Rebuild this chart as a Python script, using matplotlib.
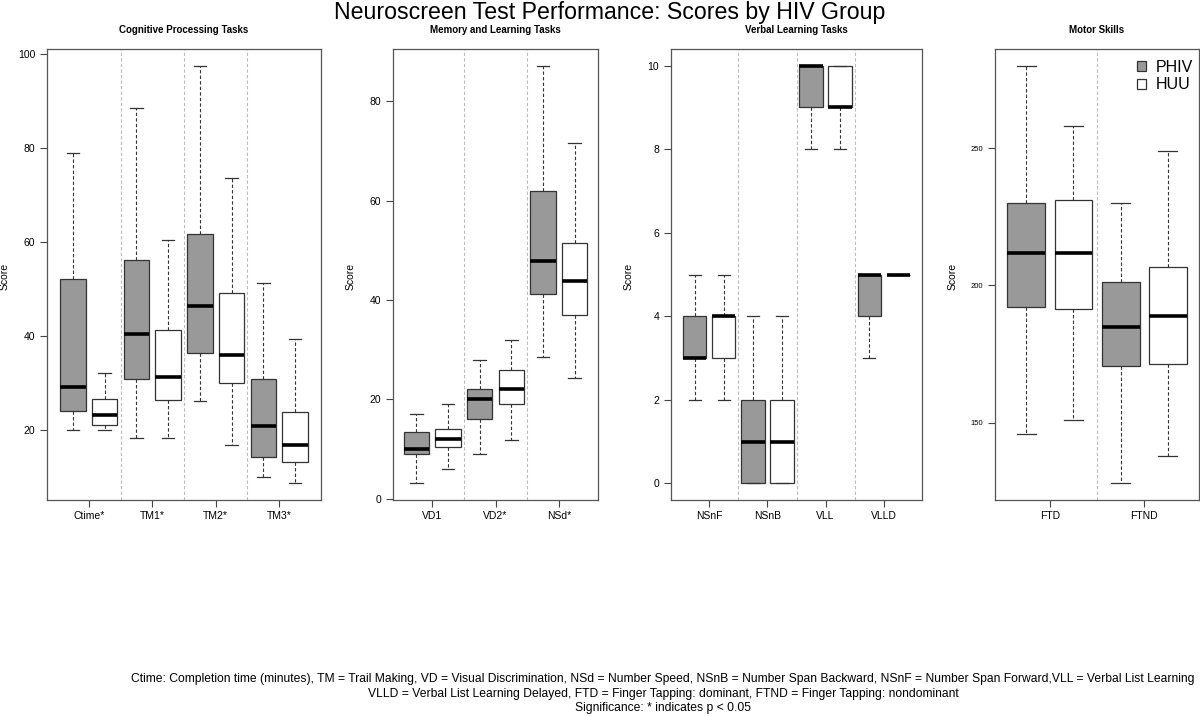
import numpy as np
import matplotlib.pyplot as plt
from matplotlib.patches import Patch

plt.rcParams['font.family'] = ['Liberation Sans', 'DejaVu Sans']

# five-number summaries: (low whisker, Q1, median, Q3, high whisker)
cog_tests = ['Ctime*', 'TM1*', 'TM2*', 'TM3*']
cog_phiv = [(20.0, 24.0, 29.1, 52.1, 78.9), (18.3, 30.8, 40.4, 56.1, 88.4),
            (26.2, 36.4, 46.3, 61.6, 97.5), (9.9, 14.2, 20.7, 30.8, 51.3)]
cog_huu = [(20.0, 21.1, 23.2, 26.5, 32.0), (18.2, 26.3, 31.3, 41.3, 60.5),
           (16.8, 30.0, 35.9, 49.1, 73.7), (8.6, 13.2, 16.7, 23.7, 39.3)]

mem_tests = ['VD1', 'VD2*', 'NSd*']
mem_phiv = [(3.1, 9.1, 10.0, 13.4, 17.0), (9.1, 16.0, 20.1, 22.0, 28.0),
            (28.5, 41.2, 47.9, 62.0, 87.2)]
mem_huu = [(6.0, 10.5, 12.0, 14.0, 19.0), (11.9, 19.0, 22.1, 26.0, 32.0),
           (24.4, 36.9, 43.9, 51.5, 71.7)]

verb_tests = ['NSnF', 'NSnB', 'VLL', 'VLLD']
verb_phiv = [(2, 3, 3, 4, 5), (0, 0, 1, 2, 4), (8, 9, 10, 10, 10), (3, 4, 5, 5, 5)]
verb_huu = [(2, 3, 4, 4, 5), (0, 0, 1, 2, 4), (8, 9, 9, 10, 10), (5, 5, 5, 5, 5)]

mot_tests = ['FTD', 'FTND']
mot_phiv = [(145.8, 192.0, 212.0, 229.9, 280.0), (128.0, 170.8, 184.8, 201.3, 229.9)]
mot_huu = [(150.9, 191.4, 212.0, 231.0, 258.1), (137.9, 171.4, 189.0, 206.9, 249.0)]

groups = ['PHIV', 'HUU']

W, H = 1200, 716
fig = plt.figure(figsize=(W / 100, H / 100), dpi=100)

# title, tests, phiv, huu, yticks, tick size, panel left px, panel width px
panels = [
    ('Cognitive Processing Tasks', cog_tests, cog_phiv, cog_huu, [20, 40, 60, 80, 100], 7.5, 47, 274),
    ('Memory and Learning Tasks', mem_tests, mem_phiv, mem_huu, [0, 20, 40, 60, 80], 7.5, 393, 205),
    ('Verbal Learning Tasks', verb_tests, verb_phiv, verb_huu, [0, 2, 4, 6, 8, 10], 7.5, 671, 251),
    ('Motor Skills', mot_tests, mot_phiv, mot_huu, [150, 200, 250], 5.5, 995, 204),
]

top, bottom = 49, 500
edge = '#333333'
for title, tests, phiv, huu, yticks, tsize, x0, w in panels:
    ax = fig.add_axes([x0 / W, 1 - bottom / H, w / W, (bottom - top) / H])
    stats = []
    for p, h in zip(phiv, huu):
        for s in (p, h):
            stats.append(dict(whislo=s[0], q1=s[1], med=s[2], q3=s[3], whishi=s[4]))
    n = len(stats)
    pos = np.arange(1, n + 1)
    b = ax.bxp(stats, positions=pos, widths=0.8, capwidths=0.4, patch_artist=True,
               showfliers=False,
               boxprops=dict(edgecolor=edge, linewidth=0.9),
               medianprops=dict(color='black', linewidth=2.6, solid_capstyle='butt'),
               whiskerprops=dict(color=edge, linewidth=0.8, linestyle=(0, (3, 2))),
               capprops=dict(color=edge, linewidth=0.9))
    for i, patch in enumerate(b['boxes']):
        patch.set_facecolor('#999999' if i % 2 == 0 else 'white')
    for xs in pos[1:-1:2] + 0.5:
        ax.axvline(xs, color='#bbbbbb', linewidth=0.8, linestyle=(0, (3, 2)), zorder=0)

    lo = min(s[0] for s in phiv + huu)
    hi = max(s[4] for s in phiv + huu)
    pad = 0.04 * (hi - lo)
    ax.set_ylim(lo - pad, hi + pad)
    ax.set_xlim(0.5 - 0.04 * n, n + 0.5 + 0.04 * n)
    ax.set_xticks(pos[::2] + 0.5)
    ax.set_xticklabels(tests)
    ax.set_yticks(yticks)
    ax.tick_params(axis='both', direction='out', length=5, width=0.8, color='#444444', pad=3)
    ax.tick_params(axis='x', labelsize=7.5)
    ax.tick_params(axis='y', labelsize=tsize, pad=3.5)
    for sp in ax.spines.values():
        sp.set_color('#555555')
        sp.set_linewidth(0.9)

    fig.text((x0 + w / 2) / W, 1 - 30 / H, title, fontsize=7, fontweight='bold',
             ha='center', va='center')
    fig.text((x0 - 42) / W, 1 - 276 / H, 'Score', fontsize=7.5, rotation=90,
             ha='center', va='center')
    last_ax = ax

handles = [Patch(facecolor='#999999', edgecolor=edge, linewidth=0.9),
           Patch(facecolor='white', edgecolor=edge, linewidth=0.9)]
last_ax.legend(handles, groups, loc='upper right', bbox_to_anchor=(0.972, 0.976),
               frameon=False, fontsize=11.5, borderpad=0, borderaxespad=0,
               handlelength=0.6, handleheight=0.6, handletextpad=0.6,
               labelspacing=0.15)

fig.text(610 / W, 1 - 12 / H, 'Neuroscreen Test Performance: Scores by HIV Group',
         fontsize=16.7, ha='center', va='center')

notes = [
    'Ctime: Completion time (minutes), TM = Trail Making, VD = Visual Discrimination, '
    'NSd = Number Speed, NSnB = Number Span Backward, NSnF = Number Span Forward,'
    'VLL = Verbal List Learning',
    'VLLD = Verbal List Learning Delayed, FTD = Finger Tapping: dominant, '
    'FTND = Finger Tapping: nondominant',
    'Significance: * indicates p < 0.05',
]
for k, line in enumerate(notes):
    fig.text(663 / W, 1 - (679 + 14.5 * k) / H, line, fontsize=8.7, ha='center', va='center')

fig.savefig('out.png', dpi=100)
